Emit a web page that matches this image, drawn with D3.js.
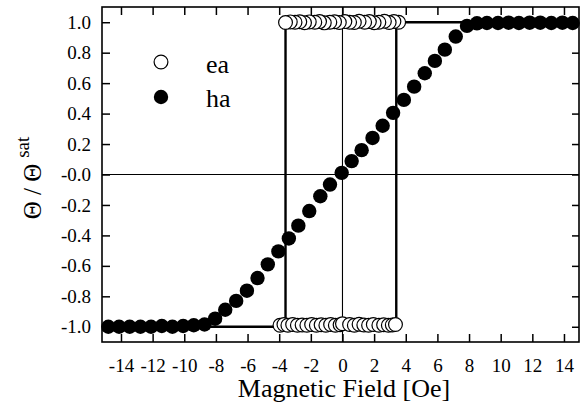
<!DOCTYPE html>
<html>
<head>
<meta charset="utf-8">
<script src="https://cdn.jsdelivr.net/npm/d3@7"></script>
<style>
  html, body { margin: 0; padding: 0; background: #fff; }
  svg { display: block; }
  svg text { font-family: "Liberation Serif", "Times New Roman", Times, "Nimbus Roman", "Noto Serif", "DejaVu Serif", serif; }
</style>
</head>
<body>
<svg id="chart" width="588" height="410"></svg>
<script>
// Easy-axis (ea) branches, listed in sweep order
const eaDownX = [3.55, 3.25, 2.95, 2.65, 2.3, 2.0, 1.7, 1.4, 1.05, 0.75, 0.45, 0.15, -0.2, -0.5, -0.8, -1.15, -1.45, -1.75, -2.1, -2.4, -2.7, -3.0, -3.3, -3.6];
const eaDownY = [1.0, 1.005, 0.998, 1.006, 1.0, 0.997, 1.004, 1.0, 1.006, 0.998, 1.0, 1.004, 0.998, 1.003, 1.0, 0.996, 1.004, 1.0, 1.002, 0.997, 1.003, 1.0, 1.002, 0.998];
const eaUpX = [-3.95, -3.7, -3.45, -3.15, -2.85, -2.55, -2.25, -1.95, -1.65, -1.35, -1.05, -0.75, -0.45, -0.15, 0.0, 0.45, 0.75, 1.05, 1.35, 1.65, 1.95, 2.3, 2.6, 2.9, 3.15, 3.35];
const eaUpY = [-0.99, -0.985, -0.99, -0.985, -0.99, -0.988, -0.99, -0.985, -0.99, -0.987, -0.99, -0.985, -0.99, -0.987, -0.98, -0.985, -0.99, -0.983, -0.988, -0.99, -0.985, -0.99, -0.987, -0.99, -0.988, -0.985];

// Hard-axis (ha) magnetisation curve
const haX = [-14.8, -14.12, -13.45, -12.77, -12.1, -11.42, -10.75, -10.07, -9.4, -8.72, -8.05, -7.41, -6.72, -6.04, -5.37, -4.72, -4.05, -3.39, -2.79, -2.1, -1.4, -0.79, -0.05, 0.58, 1.21, 1.9, 2.54, 3.2, 3.88, 4.53, 5.2, 5.84, 6.47, 7.16, 7.87, 8.5, 9.13, 9.83, 10.5, 11.15, 11.83, 12.5, 13.2, 13.9, 14.55];
const haY = [-1.0, -1.0, -1.0, -1.0, -1.0, -0.995, -1.0, -0.995, -0.99, -0.985, -0.947, -0.888, -0.83, -0.763, -0.68, -0.59, -0.505, -0.42, -0.336, -0.24, -0.143, -0.066, 0.011, 0.088, 0.16, 0.24, 0.32, 0.405, 0.49, 0.577, 0.665, 0.746, 0.82, 0.906, 0.976, 0.993, 0.995, 0.995, 0.997, 0.995, 0.997, 0.997, 0.995, 0.997, 0.995];

// Square hysteresis loop outline (switching fields)
const loopX = [-15.2, 3.4, 3.4, 14.95, -3.6, -3.6, -15.2];
const loopY = [-1.0, -1.0, 1.0, 1.0, 1.0, -1.0, -1.0];

// Axis ticks
const xTicks = [-14, -12, -10, -8, -6, -4, -2, 0, 2, 4, 6, 8, 10, 12, 14];
const yTicks = [-1.0, -0.8, -0.6, -0.4, -0.2, 0.0, 0.2, 0.4, 0.6, 0.8, 1.0];
const yTickLabels = ["-1.0", "-0.8", "-0.6", "-0.4", "-0.2", "-0.0", "0.2", "0.4", "0.6", "0.8", "1.0"];

const svg = d3.select("#chart");
const L = 102, R = 579, T = 7, B = 342;

const x = d3.scaleLinear().domain([-15.2, 14.95]).range([L, R]);
const y = d3.scaleLinear().domain([-1.1, 1.1]).range([B, T]);

// zero reference lines
svg.append("line").attr("x1", L).attr("x2", R).attr("y1", y(0)).attr("y2", y(0))
  .attr("stroke", "#000").attr("stroke-width", 1.1);
svg.append("line").attr("x1", x(0)).attr("x2", x(0)).attr("y1", T).attr("y2", B)
  .attr("stroke", "#000").attr("stroke-width", 1.1);

// hysteresis loop
const loopPts = loopX.map((v, i) => [v, loopY[i]]);
svg.append("path")
  .attr("d", d3.line().x(d => x(d[0])).y(d => y(d[1]))(loopPts))
  .attr("fill", "none").attr("stroke", "#000").attr("stroke-width", 2.4);

const R_MARK = 7.2;

// ea open markers
function openMarkers(xs, ys) {
  svg.append("g").selectAll("circle").data(xs.map((v, i) => [v, ys[i]])).join("circle")
    .attr("cx", d => x(d[0])).attr("cy", d => y(d[1])).attr("r", R_MARK - 0.3)
    .attr("fill", "#fff").attr("stroke", "#000").attr("stroke-width", 1.2);
}
openMarkers(eaDownX, eaDownY);
openMarkers(eaUpX, eaUpY);

// ha filled markers
svg.append("g").selectAll("circle").data(haX.map((v, i) => [v, haY[i]])).join("circle")
  .attr("cx", d => x(d[0])).attr("cy", d => y(d[1])).attr("r", R_MARK)
  .attr("fill", "#000");

// axes with inward ticks
function styleAxis(g) {
  g.attr("font-family", null).attr("font-size", 19);
  g.select(".domain").remove();
  g.selectAll(".tick line").attr("stroke", "#000").attr("stroke-width", 1.5);
  g.selectAll(".tick text").attr("fill", "#000");
}
svg.append("g").attr("transform", `translate(0,${B})`)
  .call(d3.axisBottom(x).tickValues(xTicks).tickSizeInner(-8).tickSizeOuter(0).tickPadding(16.5)
    .tickFormat(d => (d < 0 ? "-" : "") + Math.abs(d)))
  .call(styleAxis);
svg.append("g").attr("transform", `translate(0,${T})`)
  .call(d3.axisTop(x).tickValues(xTicks).tickSizeInner(-8).tickSizeOuter(0).tickFormat(""))
  .call(styleAxis);
svg.append("g").attr("transform", `translate(${L},0)`)
  .call(d3.axisLeft(y).tickValues(yTicks).tickSizeInner(-8).tickSizeOuter(0).tickPadding(11)
    .tickFormat((d, i) => yTickLabels[i]))
  .call(styleAxis);
svg.append("g").attr("transform", `translate(${R},0)`)
  .call(d3.axisRight(y).tickValues(yTicks).tickSizeInner(-7).tickSizeOuter(0).tickFormat(""))
  .call(styleAxis);

// frame
svg.append("rect").attr("x", L).attr("y", T).attr("width", R - L).attr("height", B - T)
  .attr("fill", "none").attr("stroke", "#000").attr("stroke-width", 1.6);

// axis titles
svg.append("text").attr("x", 344).attr("y", 397).attr("text-anchor", "middle")
  .attr("font-size", 26).attr("fill", "#000")
  .text("Magnetic Field [Oe]");

const yt = svg.append("text").attr("transform", "translate(41,178) rotate(-90)")
  .attr("text-anchor", "middle").attr("fill", "#000");
yt.append("tspan").attr("font-size", 25).text("Θ / Θ");
yt.append("tspan").attr("dx", 6).attr("dy", -12).attr("font-size", 19).text("sat");

// legend
svg.append("circle").attr("cx", 161).attr("cy", 62).attr("r", R_MARK - 0.3)
  .attr("fill", "#fff").attr("stroke", "#000").attr("stroke-width", 1.2);
svg.append("text").attr("x", 206).attr("y", 72.5)
  .attr("font-size", 26).attr("fill", "#000").text("ea");
svg.append("circle").attr("cx", 161).attr("cy", 97).attr("r", R_MARK).attr("fill", "#000");
svg.append("text").attr("x", 206).attr("y", 107)
  .attr("font-size", 26).attr("fill", "#000").text("ha");
</script>
</body>
</html>
